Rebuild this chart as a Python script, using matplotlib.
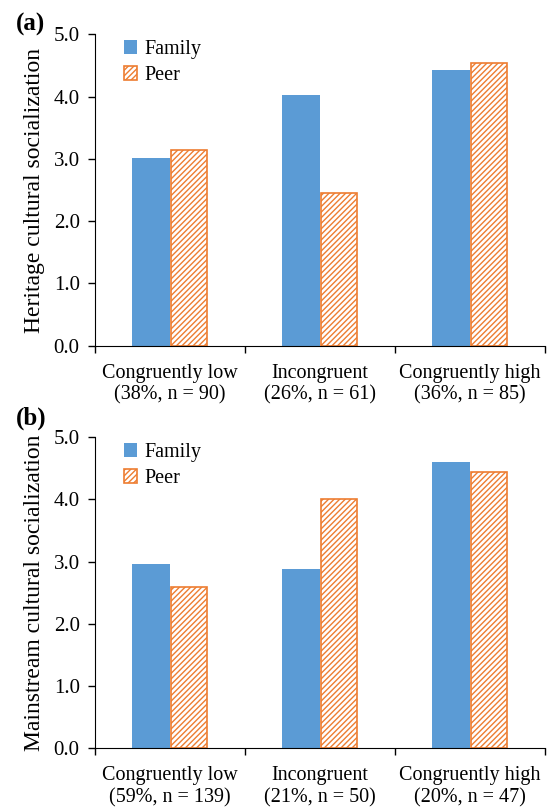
import numpy as np
import matplotlib.pyplot as plt
from matplotlib.ticker import FixedLocator, NullFormatter

plt.rcParams['font.family'] = ['Liberation Serif', 'DejaVu Serif']
plt.rcParams['hatch.color'] = '#ED7D31'
plt.rcParams['hatch.linewidth'] = 1.0

groups_a = ['Congruently low\n(38%, n = 90)', 'Incongruent\n(26%, n = 61)', 'Congruently high\n(36%, n = 85)']
family_a = [3.01, 4.02, 4.43]
peer_a = [3.15, 2.46, 4.54]

groups_b = ['Congruently low\n(59%, n = 139)', 'Incongruent\n(21%, n = 50)', 'Congruently high\n(20%, n = 47)']
family_b = [2.96, 2.88, 4.61]
peer_b = [2.59, 4.01, 4.44]

yticks = [0.0, 1.0, 2.0, 3.0, 4.0, 5.0]

blue = '#5B9BD5'
orange = '#ED7D31'

fig = plt.figure(figsize=(5.49, 8.07), dpi=100)
ax_a = fig.add_axes([0.173, 0.5715, 0.8197, 0.386])
ax_b = fig.add_axes([0.173, 0.0731, 0.8197, 0.385])

panels = [
    (ax_a, groups_a, family_a, peer_a, 'Heritage cultural socialization', '(a)', 1.03),
    (ax_b, groups_b, family_b, peer_b, 'Mainstream cultural socialization', '(b)', 1.062),
]

w = 0.25
for ax, groups, fam, peer, ylab, tag, tag_y in panels:
    x = np.arange(len(groups))
    ax.bar(x - w / 2, fam, w, color=blue, label='Family')
    ax.bar(x + w / 2, peer, w * 0.96, color='white', edgecolor=orange,
           hatch='//////', linewidth=1.2, label='Peer')
    ax.set_xlim(-0.5, len(groups) - 0.5)
    ax.set_ylim(0, 5)
    ax.set_yticks(yticks)
    ax.set_yticklabels(['%.1f' % v for v in yticks], fontsize=15)
    ax.set_xticks(x)
    ax.set_xticklabels(groups, fontsize=14.5, linespacing=1.2)
    ax.tick_params(axis='x', which='major', length=0, pad=13)
    ax.xaxis.set_minor_locator(FixedLocator(np.arange(len(groups) + 1) - 0.5))
    ax.xaxis.set_minor_formatter(NullFormatter())
    ax.tick_params(axis='x', which='minor', length=5, width=1)
    ax.tick_params(axis='y', length=5, width=1, pad=6)
    for s in ['top', 'right']:
        ax.spines[s].set_visible(False)
    ax.spines['left'].set_color('black')
    ax.spines['bottom'].set_color('black')
    ax.set_ylabel(ylab, fontsize=17, labelpad=6)
    leg = ax.legend(loc='upper left', bbox_to_anchor=(0.025, 1.04), frameon=False,
                    fontsize=14.5, handlelength=0.65, handleheight=0.65,
                    handletextpad=0.35, labelspacing=0.35)
    ax.text(-0.175, tag_y, tag, transform=ax.transAxes, fontsize=18,
            fontweight='bold', ha='left', va='center')

fig.savefig('out.png', dpi=100)
